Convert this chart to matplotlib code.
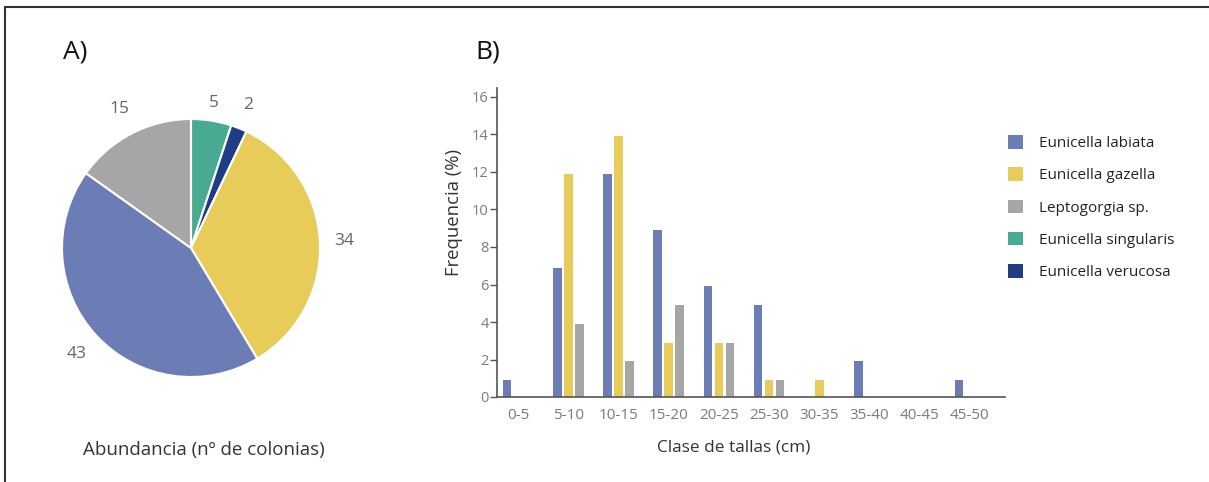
import numpy as np
import matplotlib
matplotlib.use('Agg')
import matplotlib.pyplot as plt
from matplotlib.patches import Patch
from matplotlib.lines import Line2D

plt.rcParams['font.family'] = ['Open Sans', 'DejaVu Sans']

# datos
especies = ['Eunicella labiata', 'Eunicella gazella', 'Leptogorgia sp.',
            'Eunicella singularis', 'Eunicella verucosa']
colores = ['#6c7db5', '#e8cc5a', '#a6a6a6', '#49aa92', '#1f3d84']

# abundancia (nº de colonias), en el orden del pastel (desde arriba, sentido horario)
pie_orden = [3, 4, 1, 0, 2]
abundancia = [43, 34, 15, 5, 2]   # labiata, gazella, leptogorgia, singularis, verucosa

clases = ['0-5', '5-10', '10-15', '15-20', '20-25', '25-30',
          '30-35', '35-40', '40-45', '45-50']
frec_labiata = [0.9, 6.9, 11.9, 8.9, 5.9, 4.9, 0, 1.9, 0, 0.9]
frec_gazella = [0, 11.9, 13.9, 2.9, 2.9, 0.9, 0.9, 0, 0, 0]
frec_lepto = [0, 3.9, 1.9, 4.9, 2.9, 0.9, 0, 0, 0, 0]

W, H = 1209, 482
fig = plt.figure(figsize=(W / 100, H / 100), dpi=100)

# marco
fig.add_artist(Line2D([5 / W, 1], [1 - 7 / H, 1 - 7 / H], color='#333333', lw=1.5))
fig.add_artist(Line2D([5 / W, 5 / W], [0, 1 - 7 / H], color='#333333', lw=1.5))

# --- A) pastel ---
cx, cy, r, half = 191, 248, 129, 150
ax1 = fig.add_axes([(cx - half) / W, 1 - (cy + half) / H, 2 * half / W, 2 * half / H])
vals = [abundancia[i] for i in pie_orden]
cols = [colores[i] for i in pie_orden]
wedges, _ = ax1.pie(vals, colors=cols, startangle=90, counterclock=False, radius=1,
                    wedgeprops=dict(edgecolor='white', linewidth=1.5))
lim = half / r
ax1.set_xlim(-lim, lim)
ax1.set_ylim(-lim, lim)
dist = [1.14, 1.19, 1.19, 1.21, 1.21]
for w, v, d in zip(wedges, vals, dist):
    ang = np.deg2rad((w.theta1 + w.theta2) / 2)
    ax1.text(d * np.cos(ang), d * np.sin(ang), str(v), ha='center', va='center',
             fontsize=12.5, color='#666666', clip_on=False)

fig.text(63 / W, 1 - 52 / H, 'A)', fontsize=19, color='#111111', va='center')
fig.text(204 / W, 1 - 450 / H, 'Abundancia (nº de colonias)', fontsize=13.5,
         color='#333333', ha='center', va='center')

# --- B) barras ---
x0, x1, y0 = 497, 1005, 397
ppu = 18.75
ymax = 16.5
ax2 = fig.add_axes([x0 / W, 1 - y0 / H, (x1 - x0) / W, ymax * ppu / H])
x = np.arange(len(clases))
bw, off = 0.17, 0.22
ax2.bar(x - off, frec_labiata, bw, color=colores[0])
ax2.bar(x, frec_gazella, bw, color=colores[1])
ax2.bar(x + off, frec_lepto, bw, color=colores[2])
ax2.set_xlim(-0.42, 9.7)
ax2.set_ylim(0, ymax)
ax2.set_yticks(range(0, 17, 2))
ax2.set_xticks(x)
ax2.set_xticklabels(clases)
for s in ['top', 'right']:
    ax2.spines[s].set_visible(False)
for s in ['left', 'bottom']:
    ax2.spines[s].set_color('#555555')
    ax2.spines[s].set_linewidth(1.2)
ax2.tick_params(axis='y', length=5, width=1, color='#555555', labelsize=10.5,
                labelcolor='#7a7a7a', pad=1)
ax2.tick_params(axis='x', length=0, labelsize=11, labelcolor='#7a7a7a', pad=8)
ax2.set_ylabel('Frequencia (%)', fontsize=13.3, color='#333333')
ax2.yaxis.set_label_coords(-0.067, 0.595)
ax2.set_xlabel('Clase de tallas (cm)', fontsize=12.4, color='#333333')
ax2.xaxis.set_label_coords(0.465, -0.137)

fig.text(475 / W, 1 - 52 / H, 'B)', fontsize=19, color='#111111', va='center')

handles = [Patch(facecolor=c, edgecolor='none') for c in colores]
fig.legend(handles, especies, loc='upper left', bbox_to_anchor=(1008 / W, 1 - 135 / H),
           frameon=False, fontsize=11, handlelength=1.0, handleheight=1.0,
           handletextpad=1.05, labelspacing=1.06, borderpad=0, borderaxespad=0,
           labelcolor='#222222')

fig.savefig('out.png', dpi=100)
